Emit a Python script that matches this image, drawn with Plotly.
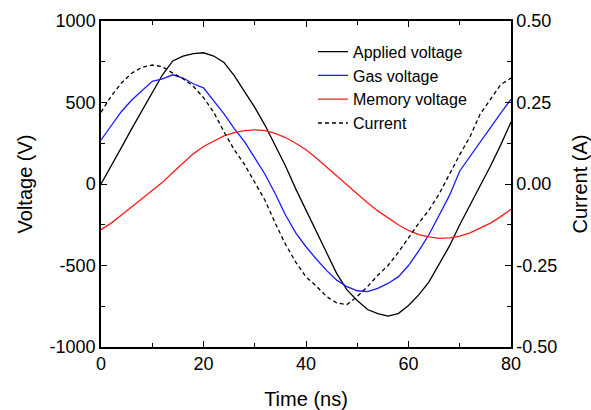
import plotly.graph_objects as go

time_ns = [0, 2, 4, 6, 8, 10, 12, 14, 16, 18, 20, 22, 24, 26, 28, 30, 32, 34, 36, 38, 40,
           42, 44, 46, 48, 50, 52, 54, 56, 58, 60, 62, 64, 66, 68, 70, 72, 74, 76, 78, 80]

applied_v = [0, 110, 225, 340, 450, 560, 670, 755, 785, 800, 805, 785, 745, 665, 570, 470, 360, 235, 110, -30, -160,
             -290, -430, -550, -650, -715, -770, -795, -810, -795, -745, -680, -600, -490, -380, -250, -130, -10, 110, 240, 380]

gas_v = [270, 355, 445, 515, 570, 630, 645, 670, 650, 615, 590, 510, 430, 340, 260, 160, 60, -60, -190, -300, -385,
         -460, -530, -590, -630, -655, -660, -640, -610, -570, -500, -410, -310, -190, -70, 80, 170, 255, 345, 435, 520]

memory_v = [-280, -240, -190, -140, -90, -40, 10, 70, 130, 185, 230, 265, 295, 315, 328, 332, 328, 310, 285, 250, 210,
            160, 105, 50, -5, -65, -115, -165, -210, -250, -285, -310, -325, -333, -330, -320, -300, -270, -240, -200, -155]

current_a = [0.220, 0.270, 0.310, 0.340, 0.358, 0.365, 0.360, 0.340, 0.323, 0.300, 0.265, 0.220, 0.160, 0.105, 0.060, 0.005,
             -0.050, -0.120, -0.185, -0.240, -0.285, -0.313, -0.345, -0.365, -0.370, -0.345, -0.315, -0.280, -0.250, -0.210,
             -0.165, -0.120, -0.080, -0.030, 0.030, 0.090, 0.145, 0.215, 0.260, 0.305, 0.325]

x_tickvals = [0, 20, 40, 60, 80]
x_ticktext = ["0", "20", "40", "60", "80"]
v_tickvals = [-1000, -500, 0, 500, 1000]
v_ticktext = ["-1000", "-500", "0", "500", "1000"]
i_tickvals = [-0.5, -0.25, 0, 0.25, 0.5]
i_ticktext = ["-0.50", "-0.25", "0.00", "0.25", "0.50"]

FONT = "Liberation Sans, Arial, sans-serif"

fig = go.Figure()
fig.add_trace(go.Scatter(x=time_ns, y=applied_v, mode="lines", name="Applied voltage",
                         line=dict(color="black", width=1.3)))
fig.add_trace(go.Scatter(x=time_ns, y=gas_v, mode="lines", name="Gas voltage",
                         line=dict(color="#1a1aff", width=1.3)))
fig.add_trace(go.Scatter(x=time_ns, y=memory_v, mode="lines", name="Memory voltage",
                         line=dict(color="#ff1a1a", width=1.3)))
fig.add_trace(go.Scatter(x=time_ns, y=current_a, mode="lines", name="Current", yaxis="y2",
                         line=dict(color="black", width=1.3, dash="4px,3px")))

axis_common = dict(showgrid=False, zeroline=False, showline=True, linecolor="black", linewidth=1.5,
                   ticks="inside", ticklen=6, tickwidth=1.3, tickcolor="black", automargin=False,
                   tickfont=dict(family=FONT, size=18, color="black"), tickmode="array")

fig.update_layout(
    width=591, height=410,
    margin=dict(l=101, r=80, t=21, b=63),
    plot_bgcolor="white", paper_bgcolor="white",
    font=dict(family=FONT, color="black"),
    xaxis=dict(range=[0, 80], tickvals=x_tickvals, ticktext=x_ticktext, mirror="ticks",
               minor=dict(dtick=10, tick0=0, ticks="inside", ticklen=4, tickcolor="black"),
               title=dict(text="Time (ns)", font=dict(family=FONT, size=20), standoff=21),
               **axis_common),
    yaxis=dict(range=[-1000, 1000], tickvals=v_tickvals, ticktext=v_ticktext,
               minor=dict(dtick=250, tick0=0, ticks="inside", ticklen=4, tickcolor="black"),
               title=dict(text="Voltage (V)", font=dict(family=FONT, size=20), standoff=12),
               **axis_common),
    yaxis2=dict(range=[-0.5, 0.5], tickvals=i_tickvals, ticktext=i_ticktext, overlaying="y", side="right",
                minor=dict(dtick=0.125, tick0=0, ticks="inside", ticklen=4, tickcolor="black"),
                title=dict(text="Current (A)", font=dict(family=FONT, size=20), standoff=23),
                **axis_common),
    legend=dict(x=0.517, y=0.958, xanchor="left", yanchor="top", bgcolor="rgba(0,0,0,0)",
                font=dict(family=FONT, size=16), itemwidth=30, tracegroupgap=0),
    showlegend=True,
)

fig.write_html("out.html", config={"displayModeBar": False},
               post_script="document.body.style.margin='0';document.body.style.overflow='hidden';")
